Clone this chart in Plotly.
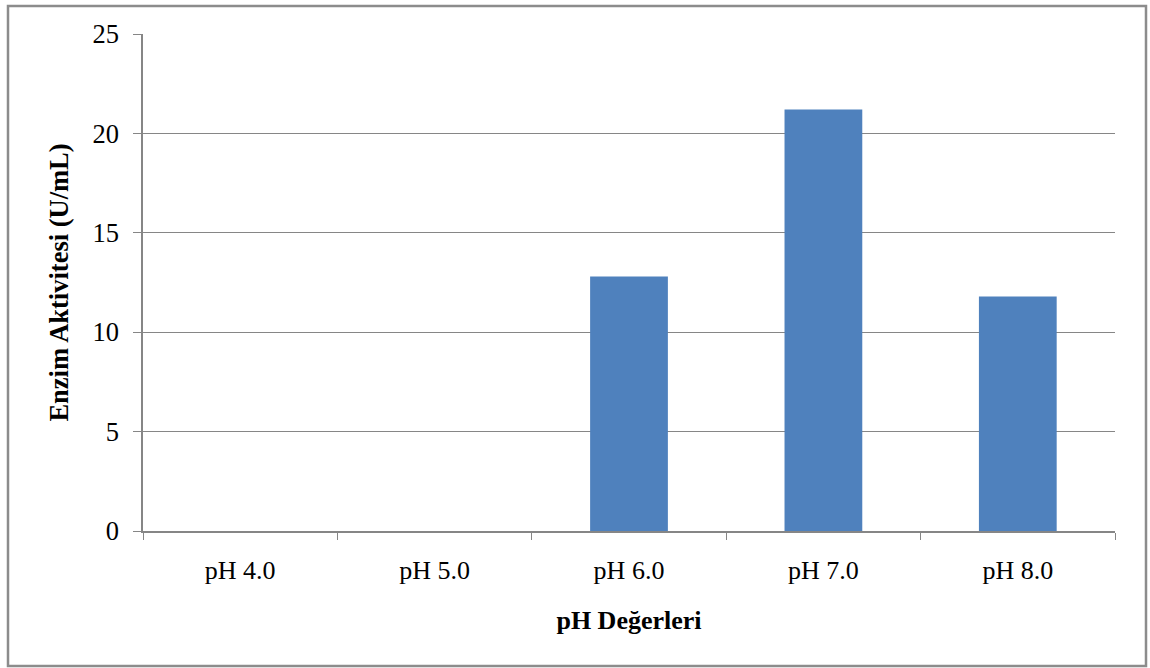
import plotly.graph_objects as go

# Enzyme activity at each pH value
ph_labels = ["pH 4.0", "pH 5.0", "pH 6.0", "pH 7.0", "pH 8.0"]
activity = [0, 0, 12.8, 21.2, 11.8]

W, H = 1150, 668
ML, MR, MT, MB = 143, 35, 34, 137
pw, ph = W - ML - MR, H - MT - MB

def px_to_paper_x(px):
    return (px - ML) / pw

def px_to_paper_y(py):
    return (H - MB - py) / ph

axis_color = "#868686"
font_family = "Liberation Serif, Times New Roman, serif"

fig = go.Figure(
    go.Bar(
        x=ph_labels,
        y=activity,
        marker=dict(color="#4F81BD", line=dict(width=0)),
    )
)

fig.update_layout(
    width=W,
    height=H,
    margin=dict(l=ML, r=MR, t=MT, b=MB),
    paper_bgcolor="white",
    plot_bgcolor="white",
    bargap=0.6,
    showlegend=False,
    font=dict(family=font_family, size=26, color="black"),
    xaxis=dict(
        tickson="boundaries",
        ticks="outside",
        ticklen=7,
        tickcolor=axis_color,
        showline=True,
        linecolor=axis_color,
        linewidth=1.5,
        showgrid=False,
        tickfont=dict(size=26),
        ticklabelstandoff=15,
        title=dict(text="<b>pH Değerleri</b>", font=dict(size=26), standoff=27),
    ),
    yaxis=dict(
        range=[0, 25],
        dtick=5,
        ticks="outside",
        ticklen=8,
        tickcolor=axis_color,
        showline=True,
        linecolor=axis_color,
        linewidth=1.5,
        showgrid=True,
        gridcolor=axis_color,
        gridwidth=1,
        zeroline=False,
        tickfont=dict(size=26.5),
        ticklabelstandoff=9,
        title=dict(text="<b>Enzim Aktivitesi (U/mL)</b>", font=dict(size=26.5), standoff=16),
    ),
    shapes=[
        dict(
            type="rect",
            xref="paper",
            yref="paper",
            x0=px_to_paper_x(8),
            x1=px_to_paper_x(1146),
            y0=px_to_paper_y(666),
            y1=px_to_paper_y(6),
            line=dict(color="#8c8c8c", width=2.5),
            fillcolor="rgba(0,0,0,0)",
            layer="below",
        )
    ],
)

fig.write_html("out.html")
